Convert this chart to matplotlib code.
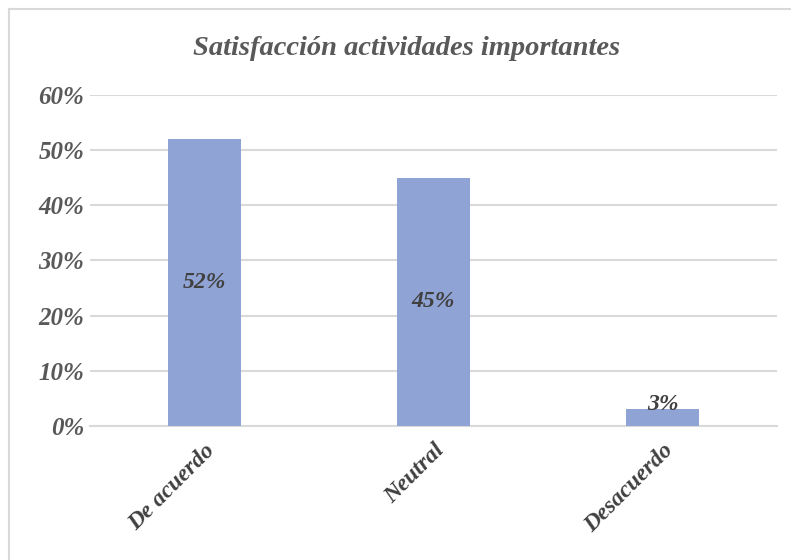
import matplotlib.pyplot as plt
from matplotlib.lines import Line2D
from matplotlib.ticker import PercentFormatter

# response shares for the question
categorias = ['De acuerdo', 'Neutral', 'Desacuerdo']
porcentajes = [0.52, 0.45, 0.03]
y_ticks = [0.0, 0.1, 0.2, 0.3, 0.4, 0.5, 0.6]

plt.rcParams['font.family'] = ['Liberation Serif', 'DejaVu Serif']

fig = plt.figure(figsize=(7.91, 5.60), dpi=100)
ax = fig.add_axes([0.1138, 0.2393, 0.8685, 0.5911])

# chart frame edge (only top and left are inside the image)
fx, fy = 8.5 / 791, 1 - 8.5 / 560
fig.lines.append(Line2D([fx, 1.0], [fy, fy], transform=fig.transFigure,
                        color='#D9D9D9', linewidth=1.5))
fig.lines.append(Line2D([fx, fx], [0.0, fy], transform=fig.transFigure,
                        color='#D9D9D9', linewidth=1.5))

x = range(len(categorias))
bars = ax.bar(x, porcentajes, width=0.315, color='#8FA3D4', zorder=3)

ax.set_xlim(-0.5, len(categorias) - 0.5)
ax.set_ylim(0, 0.6)
ax.set_yticks(y_ticks)
ax.yaxis.set_major_formatter(PercentFormatter(1.0, decimals=0))
ax.grid(axis='y', color='#D9D9D9', linewidth=1.5, zorder=0)
for s in ['top', 'right', 'left']:
    ax.spines[s].set_visible(False)
ax.spines['bottom'].set_color('#D9D9D9')
ax.spines['bottom'].set_linewidth(1.5)
ax.tick_params(length=0)
ax.tick_params(axis='y', pad=4)

for lab in ax.get_yticklabels():
    lab.set_fontsize(18)
    lab.set_fontweight('bold')
    lab.set_fontstyle('italic')
    lab.set_color('#595959')

ax.set_xticks(list(x))
ax.set_xticklabels(categorias, rotation=45, ha='right', rotation_mode='anchor',
                   fontsize=17, fontweight='bold', fontstyle='italic',
                   color='#404040')
ax.tick_params(axis='x', pad=10)

# value labels centred in each bar, above it when the bar is too short
for i, v in enumerate(porcentajes):
    if v > 0.08:
        ax.text(i, v / 2, f'{v:.0%}', ha='center', va='center', fontsize=17,
                fontweight='bold', fontstyle='italic', color='#404040', zorder=4)
    else:
        ax.annotate(f'{v:.0%}', (i, v), xytext=(0, -4), textcoords='offset points',
                    ha='center', va='bottom', fontsize=17, fontweight='bold',
                    fontstyle='italic', color='#404040', zorder=4)

fig.text(0.514, 0.913, 'Satisfacción actividades importantes', ha='center',
         va='center', fontsize=20.5, fontweight='bold', fontstyle='italic',
         color='#595959')

fig.savefig('out.png', dpi=100)
